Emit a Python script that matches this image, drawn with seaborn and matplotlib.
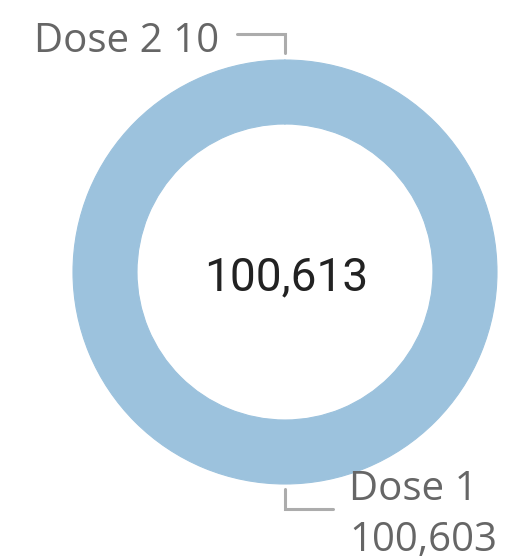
import matplotlib
matplotlib.use("Agg")
import matplotlib.pyplot as plt
import seaborn as sns

labels = ["Dose 1", "Dose 2"]
values = [100603, 10]
total = sum(values)

sns.set_theme(style="white")
plt.rcParams['font.family'] = ['Open Sans', 'DejaVu Sans']

fig = plt.figure(figsize=(5.28, 5.60), dpi=100)
ax = fig.add_axes([0, 0, 1, 1])

blue = "#9cc2dd"
ax.pie(values, colors=[blue, blue], center=(285, 288), radius=212,
       startangle=90, counterclock=False,
       wedgeprops=dict(width=64, linewidth=0.8, edgecolor=blue))
ax.set_xlim(0, 528)
ax.set_ylim(0, 560)
ax.set_aspect("equal")
ax.axis("off")

line_c = "#acacac"
# leader line Dose 2 (top)
ax.plot([237, 285, 285], [560 - 34, 560 - 34, 560 - 53], color=line_c, lw=2.2,
        solid_joinstyle="miter")
# leader line Dose 1 (bottom)
ax.plot([285, 285, 333], [560 - 489, 560 - 509, 560 - 509], color=line_c, lw=2.2,
        solid_joinstyle="miter")

txt_c = "#666666"
ax.text(34, 560 - 52, f"{labels[1]} {values[1]:,}", fontsize=29, color=txt_c,
        ha="left", va="baseline")
ax.text(349, 560 - 500, labels[0], fontsize=29, color=txt_c, ha="left", va="baseline")
ax.text(349, 560 - 551, f"{values[0]:,}", fontsize=29, color=txt_c, ha="left", va="baseline")

ax.text(286, 560 - 290, f"{total:,}", fontsize=33, color="#222222",
        ha="center", va="baseline", family=["Roboto", "DejaVu Sans"])

fig.savefig("out.png", dpi=100, facecolor="white")
